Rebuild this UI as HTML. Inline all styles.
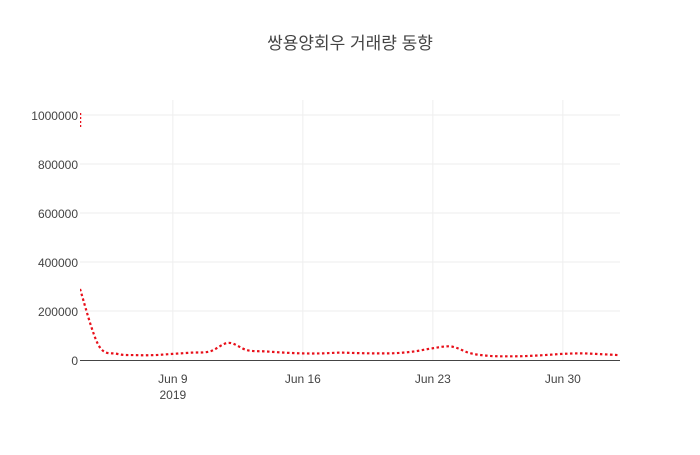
<!DOCTYPE html>
<html><head><meta charset="utf-8"><style>
body{margin:0;background:#fff;font-family:"Liberation Sans","Noto Sans CJK KR",sans-serif;}
</style></head><body>
<svg id="svg" width="700" height="450" xmlns="http://www.w3.org/2000/svg" style="font-family:'Liberation Sans','Noto Sans CJK KR',sans-serif">
<rect width="700" height="450" fill="#fff"/>
<text x="350" y="49" text-anchor="middle" font-size="17" fill="#444">쌍용양회우 거래량 동향</text>
<g id="grid"></g><g id="axes"></g>
<defs><clipPath id="clip"><rect x="80" y="100" width="540" height="262"/></clipPath></defs>
<g clip-path="url(#clip)"><path id="line" fill="none" stroke="#e8101a" stroke-width="2.2" stroke-dasharray="2.5,2.5"/>
<line x1="80.5" y1="113" x2="80.5" y2="127" stroke="#e8101a" stroke-width="1.5" stroke-dasharray="2,2"/></g>
<line x1="80" y1="360.5" x2="620" y2="360.5" stroke="#444" stroke-width="1"/>
</svg>
<script>
const startDay=4; // June 4
const values=[290000,60000,25000,20000,20000,25000,30000,35000,70000,40000,35000,30000,27000,27000,30000,28000,27000,28000,35000,48000,55000,28000,17000,15000,16000,20000,25000,27000,24000,20000];
const yTicks=[0,200000,400000,600000,800000,1000000];
const yTickLabels=["0","200000","400000","600000","800000","1000000"];
const xTickDays=[9,16,23,30];
const xTickLabels=["Jun 9","Jun 16","Jun 23","Jun 30"];
const x0=80,pxDay=130/7;
const X=d=>x0+(d-startDay)*pxDay;
const Y=v=>360-v/200000*49;
const ns="http://www.w3.org/2000/svg";
const grid=document.getElementById('grid'),axes=document.getElementById('axes');
function mk(t,a,p){const e=document.createElementNS(ns,t);for(const k in a)e.setAttribute(k,a[k]);p.appendChild(e);return e;}
yTicks.forEach((v,i)=>{
 if(v>0){const l=mk('line',{x1:80,x2:620,y1:Y(v),y2:Y(v),stroke:'#eee'},grid);
 
 }
 const t=mk('text',{x:78,y:Y(v)+5,'text-anchor':'end','font-size':12,fill:'#444'},axes);t.textContent=yTickLabels[i];
 
 
});
xTickDays.forEach((dd,i)=>{
 const l=mk('line',{x1:X(dd),x2:X(dd),y1:100,y2:360,stroke:'#eee'},grid);
 
 
 const t=mk('text',{x:X(dd),y:383,'text-anchor':'middle','font-size':12,fill:'#444'},axes);t.textContent=xTickLabels[i];
 
 
});
const yr=mk('text',{x:X(9),y:399,'text-anchor':'middle','font-size':12,fill:'#444'},axes);yr.textContent="2019";


const pts=values.map((v,i)=>[X(startDay+i),Y(v)]);
let path=`M${pts[0][0]},${pts[0][1]}`;
for(let i=0;i<pts.length-1;i++){
 const p0=pts[Math.max(0,i-1)],p1=pts[i],p2=pts[i+1],p3=pts[Math.min(pts.length-1,i+2)];
 const k=1/6;
 path+=` C${p1[0]+(p2[0]-p0[0])*k},${p1[1]+(p2[1]-p0[1])*k} ${p2[0]-(p3[0]-p1[0])*k},${p2[1]-(p3[1]-p1[1])*k} ${p2[0]},${p2[1]}`;
}
document.getElementById('line').setAttribute('d',path);
</script>
</body></html>
